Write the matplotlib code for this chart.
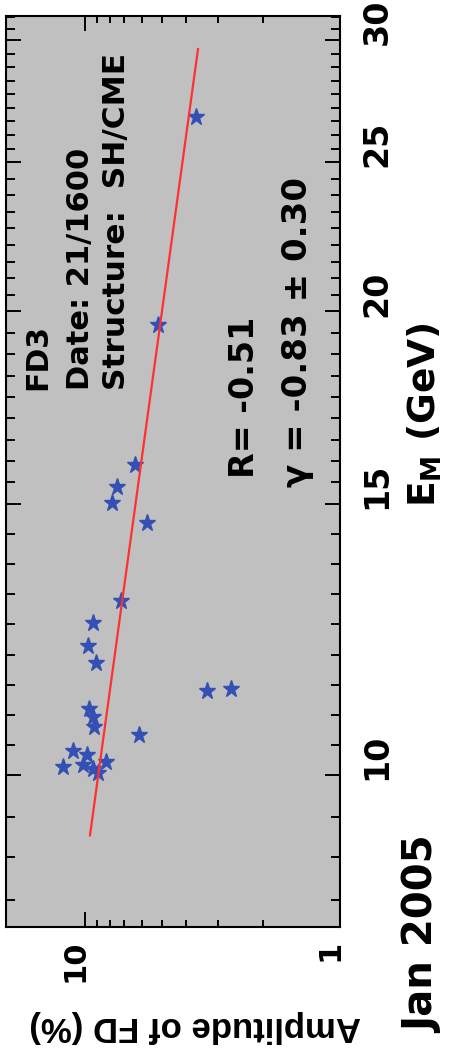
import numpy as np
import matplotlib
matplotlib.use("Agg")
import matplotlib.pyplot as plt
from matplotlib.ticker import FixedLocator, NullFormatter
from matplotlib.transforms import ScaledTranslation, blended_transform_factory

plt.rcParams['mathtext.fontset'] = 'dejavusans'

# FD3 event: median rigidity of each station (GeV) and Forbush decrease amplitude (%)
energy_gev = [26.75, 19.60, 15.90, 15.38, 15.02, 14.57, 12.97, 12.55, 12.13,
              11.82, 11.34, 11.37, 11.04, 10.91, 10.74, 10.62, 10.37, 10.30,
              10.20, 10.12, 10.15, 10.09, 10.04]
amplitude_pct = [3.67, 5.17, 6.37, 7.49, 7.84, 5.71, 7.22, 9.30, 9.73,
                 9.06, 3.32, 2.68, 9.65, 9.30, 9.22, 6.14, 11.15, 9.82,
                 8.27, 12.20, 10.18, 9.30, 8.89]

# power-law fit A = A10 * (E/10)^gamma
gamma = -0.83
gamma_err = 0.30
corr_r = -0.51
fit_amp_at_10 = 8.87
fit_energy_range = [9.14, 29.6]

energy_ticks = [10, 15, 20, 25, 30]
amplitude_ticks = [10, 1]
amplitude_minor = [2, 3, 4, 5, 6, 7, 8, 9]

W, H = 457, 1057
fig = plt.figure(figsize=(W / 100, H / 100), dpi=100)
fig.patch.set_facecolor('white')


def fx(px):
    return px / W


def fy(py):
    return 1 - py / H


# axes box (rotated layout: energy runs upward, amplitude decreases to the right)
ax = fig.add_axes([fx(6), fy(927), fx(340) - fx(6), fy(16) - fy(927)])
ax.set_facecolor('#c0c0c0')
ax.set_xscale('log')
ax.set_yscale('log')
ax.set_xlim(20.4, 1)
ax.set_ylim(7.97, 31.1)

ax.plot(amplitude_pct, energy_gev, ls='none', marker='*', ms=12.5,
        color='#3550b4', mec='#3550b4', zorder=3)

e_fit = np.geomspace(fit_energy_range[0], fit_energy_range[1], 60)
a_fit = fit_amp_at_10 * (e_fit / 10.0) ** gamma
ax.plot(a_fit, e_fit, color='#ff3030', lw=1.6, zorder=4)

# ticks
ax.xaxis.set_major_locator(FixedLocator(amplitude_ticks))
ax.xaxis.set_minor_locator(FixedLocator(amplitude_minor))
ax.xaxis.set_major_formatter(NullFormatter())
ax.xaxis.set_minor_formatter(NullFormatter())

e_minor = [9.4, 8.85, 8.3]
for a, b in zip([10, 15, 20, 25, 30], [15, 20, 25, 30, 35]):
    e_minor += [a * (b / a) ** (k / 9) for k in range(1, 9)]
ax.yaxis.set_major_locator(FixedLocator(energy_ticks))
ax.yaxis.set_minor_locator(FixedLocator(e_minor))
ax.yaxis.set_major_formatter(NullFormatter())
ax.yaxis.set_minor_formatter(NullFormatter())

ax.tick_params(axis='x', which='major', direction='in', top=True, bottom=True,
               length=10.8, width=1.4, color='black')
ax.tick_params(axis='x', which='minor', direction='in', top=True, bottom=True,
               length=5.2, width=1.4, color='black')
ax.tick_params(axis='y', which='major', direction='in', left=True, right=True,
               length=10.8, width=1.4, color='black')
ax.tick_params(axis='y', which='minor', direction='in', left=True, right=True,
               length=6.3, width=1.4, color='black')
for s in ax.spines.values():
    s.set_linewidth(1.5)
    s.set_color('black')

# tick labels
bold = dict(fontweight='bold', family='DejaVu Sans', color='black')
ytr = blended_transform_factory(ax.transAxes, ax.transData)
for e in energy_ticks:
    ax.text(1, e, f'{e}', transform=ytr + ScaledTranslation(0.37, 0.18, fig.dpi_scale_trans),
            rotation=90, rotation_mode='anchor', ha='center', va='center',
            fontsize=24, clip_on=False, **bold)

xtr = blended_transform_factory(ax.transData, ax.transAxes)
for a in amplitude_ticks:
    ax.text(a, 0, f'{a}', transform=xtr + ScaledTranslation(-0.10, -0.13, fig.dpi_scale_trans),
            rotation=90, rotation_mode='anchor', ha='right', va='center',
            fontsize=22, clip_on=False, **bold)

# axis titles
fig.text(fx(425), fy(415), r'E$_{\mathbf{M}}$ (GeV)', rotation=90,
         ha='center', va='center', fontsize=27, **bold)
fig.text(fx(423), fy(935), 'Jan 2005', rotation=90,
         ha='center', va='center', fontsize=29, **bold)
fig.text(fx(195), fy(1027), 'Amplitude of FD (%)', rotation=180,
         ha='center', va='center', fontsize=25, fontweight='bold',
         family='Liberation Sans', color='black')

# annotations inside the panel
notes = [
    (38, 390, 'FD3', 21.5),
    (80, 390, 'Date: 21/1600', 22),
    (117, 390, 'Structure:  SH/CME', 22.5),
    (244, 478, f'R= {corr_r:.2f}', 24),
    (297, 487, f'\u03b3 = {gamma:.2f} \u00b1 {gamma_err:.2f}', 24.5),
]
for px, py, txt, size in notes:
    fig.text(fx(px), fy(py), txt, rotation=90, rotation_mode='anchor',
             ha='left', va='center', fontsize=size, **bold)

fig.savefig('out.png', dpi=100, facecolor='white')
